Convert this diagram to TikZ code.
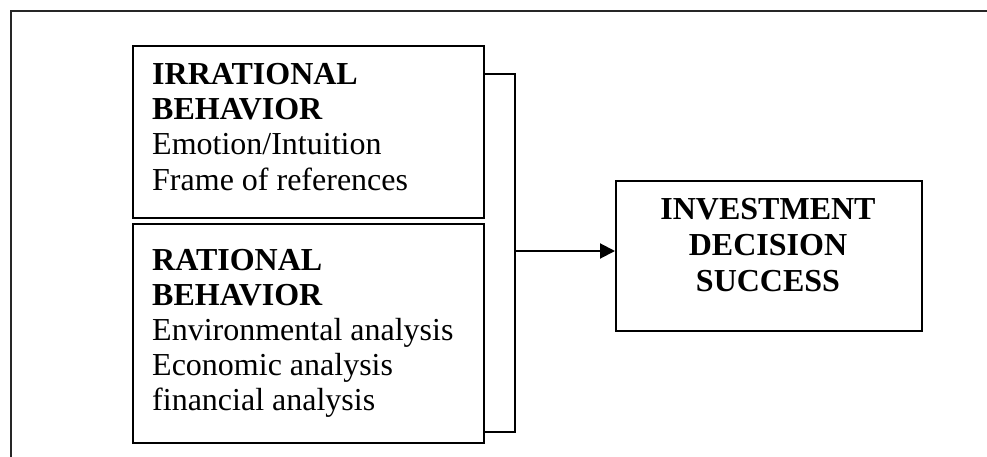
\documentclass[tikz,border=0pt]{standalone}
\usepackage{fontspec}
\setmainfont{Liberation Serif}
\usetikzlibrary{arrows.meta}
\begin{document}
\begin{tikzpicture}[x=1pt,y=-1pt,
  frameline/.style={line width=2pt, draw=black!85},
  box/.style={draw, line width=2pt, inner sep=0pt, anchor=north west},
  conn/.style={line width=2pt},
  txt/.style={anchor=base west, inner sep=0pt, font=\fontsize{32}{35}\selectfont},
  btxt/.style={txt, font=\fontsize{32}{35}\selectfont\bfseries},
  ctxt/.style={anchor=base, inner sep=0pt, font=\fontsize{32}{36}\selectfont\bfseries}]
\useasboundingbox (0,0) rectangle (987,457);
% outer frame (top and left edges)
\coordinate (fl) at (11,457);
\coordinate (fc) at (11,11);
\coordinate (fr) at (987,11);
\draw[frameline] (fl) -- (fc) -- (fr);
% boxes
\node[box, minimum width=351pt, minimum height=172.3pt] (irr) at (132,44.7) {};
\node[box, minimum width=351pt, minimum height=219pt] (rat) at (132,223) {};
\node[box, minimum width=306pt, minimum height=150pt] (inv) at (615,180) {};
% texts upper box
\node[btxt] (t1) at (152,85) {IRRATIONAL};
\node[btxt] (t2) at (152,120) {BEHAVIOR};
\node[txt] (t3) at (152,155) {Emotion/Intuition};
\node[txt] (t4) at (152,190) {Frame of references};
% texts lower box
\node[btxt] (t5) at (152,270) {RATIONAL};
\node[btxt] (t6) at (152,305) {BEHAVIOR};
\node[txt] (t7) at (152,340) {Environmental analysis};
\node[txt] (t8) at (152,375) {Economic analysis};
\node[txt] (t9) at (152,410) {financial analysis};
% texts right box
\node[ctxt] (r1) at (768,219.5) {INVESTMENT};
\node[ctxt] (r2) at (768,255.5) {DECISION};
\node[ctxt] (r3) at (768,291.5) {SUCCESS};
% bracket
\coordinate (bt) at (515,74.3);
\coordinate (bb) at (515,432);
\draw[conn] (irr.east |- bt) -- (bt) -- (bb) -- (rat.east |- bb);
% arrow
\coordinate (ac) at (515,251);
\draw[conn, -{Triangle[length=15pt,width=15pt]}] (ac) -- (inv.west |- ac);
\end{tikzpicture}
\end{document}
